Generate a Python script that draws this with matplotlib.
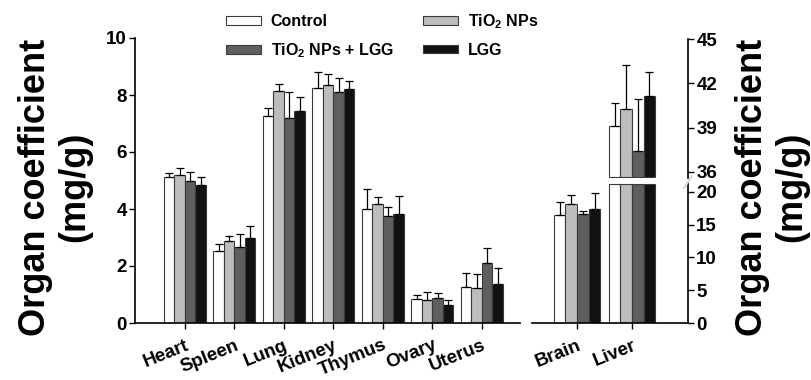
import matplotlib
matplotlib.use("Agg")
import matplotlib.pyplot as plt
from matplotlib.patches import Patch
from matplotlib.lines import Line2D
import numpy as np

plt.rcParams['font.family'] = ['Liberation Sans', 'DejaVu Sans']
plt.rcParams['font.weight'] = 'bold'
plt.rcParams['mathtext.fontset'] = 'custom'
plt.rcParams['mathtext.rm'] = 'Liberation Sans:bold'
plt.rcParams['mathtext.bf'] = 'Liberation Sans:bold'
plt.rcParams['mathtext.default'] = 'bf'

# organ coefficients (mg/g), mean and SD
organs = ["Heart", "Spleen", "Lung", "Kidney", "Thymus", "Ovary", "Uterus"]
control = [5.14, 2.52, 7.28, 8.25, 4.00, 0.85, 1.26]
tio2 = [5.19, 2.87, 8.14, 8.35, 4.16, 0.82, 1.23]
tio2_lgg = [4.98, 2.65, 7.21, 8.12, 3.74, 0.89, 2.11]
lgg = [4.85, 2.98, 7.44, 8.22, 3.83, 0.62, 1.37]
control_sd = [0.12, 0.24, 0.28, 0.55, 0.70, 0.14, 0.50]
tio2_sd = [0.25, 0.19, 0.26, 0.40, 0.26, 0.27, 0.50]
tio2_lgg_sd = [0.32, 0.48, 0.90, 0.48, 0.33, 0.17, 0.52]
lgg_sd = [0.27, 0.41, 0.48, 0.27, 0.63, 0.17, 0.56]

big_organs = ["Brain", "Liver"]
big_control = [16.46, 39.10]
big_tio2 = [18.18, 40.26]
big_tio2_lgg = [16.66, 37.43]
big_lgg = [17.42, 41.15]
big_control_sd = [2.02, 1.59]
big_tio2_sd = [1.31, 2.97]
big_tio2_lgg_sd = [0.40, 3.53]
big_lgg_sd = [2.48, 1.63]

labels = ["Control", "TiO$_2$ NPs", "TiO$_2$ NPs + LGG", "LGG"]
colors = ["white", "#bdbdbd", "#5f5f5f", "#111111"]
edge = "#3a3a3a"

W, H = 811, 380
fig = plt.figure(figsize=(W / 100, H / 100), dpi=100)

def box(x0, y_top, x1, y_bot):
    return [x0 / W, 1 - y_bot / H, (x1 - x0) / W, (y_bot - y_top) / H]

ax = fig.add_axes(box(135, 38, 520, 323))
ax_lo = fig.add_axes(box(532, 183, 688, 323))
ax_up = fig.add_axes(box(532, 39, 688, 178))

bw = 0.212
offs = (np.arange(4) - 1.5) * bw
err_kw = dict(ecolor="black", elinewidth=0.9, capsize=3, capthick=0.9)

# left panel
x = np.arange(len(organs))
series = [control, tio2, tio2_lgg, lgg]
sds = [control_sd, tio2_sd, tio2_lgg_sd, lgg_sd]
for i in range(4):
    ax.bar(x + offs[i], series[i], bw, color=colors[i], edgecolor=edge,
           linewidth=0.8, yerr=[np.zeros(len(organs)), sds[i]], error_kw=err_kw)
ax.set_xlim(-1.01, 6.77)
ax.set_ylim(0, 10)
ax.set_yticks([0, 2, 4, 6, 8, 10])
ax.set_xticks(x)
ax.set_xticklabels(organs, rotation=22, ha="right", rotation_mode="anchor")
for s in ["top", "right"]:
    ax.spines[s].set_visible(False)

# right panel with broken axis
xb = np.arange(len(big_organs))
big_series = [big_control, big_tio2, big_tio2_lgg, big_lgg]
big_sds = [big_control_sd, big_tio2_sd, big_tio2_lgg_sd, big_lgg_sd]
lo_top, up_bot = 21.37, 35.59
for i in range(4):
    vals = np.array(big_series[i])
    ax_lo.bar(xb + offs[i], np.minimum(vals, lo_top - 0.15), bw, color=colors[i],
              edgecolor=edge, linewidth=0.8)
    ax_lo.errorbar(xb[:1] + offs[i], vals[:1], yerr=[[0], big_sds[i][:1]],
                   fmt="none", **err_kw)
    ax_up.bar(xb[1:] + offs[i], vals[1:] - (up_bot + 0.07), bw, bottom=up_bot + 0.07,
              color=colors[i], edgecolor=edge, linewidth=0.8)
    ax_up.errorbar(xb[1:] + offs[i], vals[1:], yerr=[[0], big_sds[i][1:]],
                   fmt="none", **err_kw)

for a in [ax_lo, ax_up]:
    a.set_xlim(-0.82, 2.02)
    a.yaxis.tick_right()
    a.spines["left"].set_visible(False)
    a.spines["top"].set_visible(False)
ax_lo.set_ylim(0, lo_top)
ax_lo.set_yticks([0, 5, 10, 15, 20])
ax_lo.set_xticks(xb)
ax_lo.set_xticklabels(big_organs, rotation=22, ha="right", rotation_mode="anchor")
ax_up.set_ylim(up_bot, 45)
ax_up.set_yticks([36, 39, 42, 45])
ax_up.spines["bottom"].set_visible(False)
ax_up.set_xticks([])

for a in [ax, ax_lo, ax_up]:
    a.tick_params(axis="both", labelsize=13.5, width=1, length=4, pad=2)
    for s in a.spines.values():
        s.set_linewidth(1.2)
ax.tick_params(axis="x", pad=6)
ax_lo.tick_params(axis="x", pad=6)

# axis break mark
fig.add_artist(Line2D([684 / W, 692 / W], [1 - 188 / H, 1 - 176 / H],
                      color="#d8d8d8", linewidth=1.5))

# axis titles
fig.text(55 / W, 1 - 187 / H, "Organ coefficient\n(mg/g)", rotation=90,
         ha="center", va="center", fontsize=26, linespacing=1.15)
fig.text(772 / W, 1 - 187 / H, "Organ coefficient\n(mg/g)", rotation=90,
         ha="center", va="center", fontsize=26, linespacing=1.15)

handles = [Patch(facecolor=colors[i], edgecolor=edge, linewidth=0.8) for i in range(4)]
order = [0, 2, 1, 3]
fig.legend([handles[i] for i in order], [labels[i] for i in order], ncol=2,
           loc="upper left", bbox_to_anchor=(226 / W, 1 - 12 / H), frameon=False,
           fontsize=11.5, handlelength=2.2, handleheight=0.45, handletextpad=0.6,
           columnspacing=1.85, labelspacing=0.75, borderpad=0, borderaxespad=0)

fig.savefig("out.png", dpi=100)
